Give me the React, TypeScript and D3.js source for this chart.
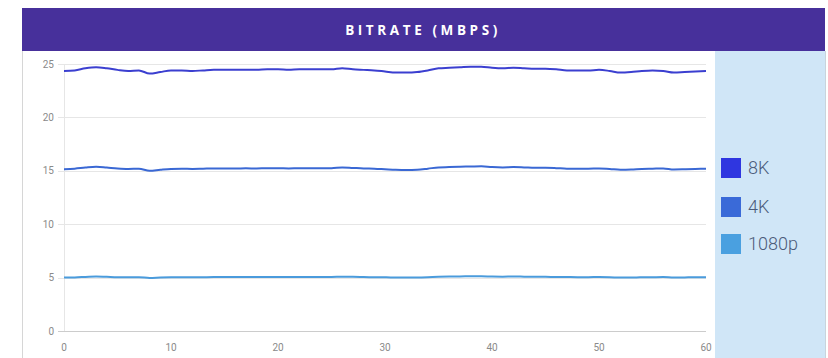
import React, { useEffect, useRef } from "react";
import * as d3 from "d3";

const seconds: number[] = d3.range(0, 61);

const bitrate8K: number[] = [
  24.35, 24.4, 24.6, 24.7, 24.6, 24.45, 24.35, 24.4, 24.1, 24.25,
  24.4, 24.4, 24.35, 24.4, 24.45, 24.45, 24.45, 24.45, 24.45, 24.5,
  24.5, 24.45, 24.5, 24.5, 24.5, 24.5, 24.6, 24.5, 24.45, 24.4,
  24.3, 24.2, 24.2, 24.25, 24.4, 24.6, 24.65, 24.7, 24.75, 24.75,
  24.65, 24.6, 24.65, 24.6, 24.55, 24.55, 24.5, 24.4, 24.4, 24.4,
  24.45, 24.35, 24.2, 24.25, 24.35, 24.4, 24.35, 24.2, 24.25, 24.3,
  24.35,
];

const bitrate4K: number[] = [
  15.15, 15.2, 15.3, 15.37, 15.3, 15.22, 15.18, 15.2, 15.0, 15.1,
  15.18, 15.2, 15.18, 15.2, 15.22, 15.22, 15.22, 15.23, 15.22, 15.25,
  15.25, 15.22, 15.25, 15.25, 15.25, 15.25, 15.32, 15.27, 15.22, 15.2,
  15.15, 15.1, 15.08, 15.1, 15.2, 15.32, 15.35, 15.38, 15.4, 15.42,
  15.35, 15.32, 15.35, 15.32, 15.28, 15.28, 15.25, 15.2, 15.2, 15.2,
  15.22, 15.18, 15.1, 15.12, 15.18, 15.2, 15.22, 15.12, 15.14, 15.17,
  15.2,
];

const bitrate1080p: number[] = [
  5.0, 5.02, 5.06, 5.1, 5.07, 5.04, 5.03, 5.04, 4.96, 5.0,
  5.03, 5.04, 5.03, 5.04, 5.05, 5.05, 5.05, 5.05, 5.05, 5.06,
  5.06, 5.05, 5.06, 5.06, 5.06, 5.06, 5.09, 5.07, 5.05, 5.04,
  5.03, 5.01, 5.0, 5.01, 5.04, 5.08, 5.1, 5.11, 5.12, 5.13,
  5.1, 5.09, 5.1, 5.09, 5.08, 5.07, 5.06, 5.05, 5.04, 5.04,
  5.05, 5.04, 5.0, 5.01, 5.03, 5.04, 5.05, 5.01, 5.02, 5.03,
  5.03,
];

const seriesNames: string[] = ["8K", "4K", "1080p"];
const lineColors: string[] = ["#3b3fd0", "#3a68d4", "#4a9bdc"];
const legendColors: string[] = ["#2f36e0", "#3a6ad8", "#4aa0e0"];
const yTicks: number[] = [0, 5, 10, 15, 20, 25];
const xTicks: number[] = [0, 10, 20, 30, 40, 50, 60];
const title = "BITRATE (MBPS)";

const W = 828;
const H = 358;

export default function App() {
  const ref = useRef<SVGSVGElement | null>(null);

  useEffect(() => {
    const svg = d3.select(ref.current);
    svg.selectAll("*").remove();

    const x = d3.scaleLinear().domain([0, 60]).range([64, 706]);
    const y = d3.scaleLinear().domain([0, 25]).range([331, 64]);

    svg.append("rect").attr("x", 0).attr("y", 0).attr("width", W).attr("height", H).attr("fill", "#ffffff");

    svg.append("line").attr("x1", 22.5).attr("x2", 22.5).attr("y1", 51).attr("y2", H)
      .attr("stroke", "#d6d6d6").attr("stroke-width", 1);

    svg.append("rect").attr("x", 22).attr("y", 8).attr("width", 803).attr("height", 43).attr("fill", "#47309b");
    svg.append("text").attr("x", 423).attr("y", 35).attr("text-anchor", "middle")
      .attr("fill", "#ffffff").attr("font-family", "'Open Sans', sans-serif").attr("font-weight", 700)
      .attr("font-size", 13.5).attr("letter-spacing", 3.6).text(title);

    svg.append("rect").attr("x", 715).attr("y", 51).attr("width", 110).attr("height", H - 51).attr("fill", "#d0e6f7");
    svg.append("line").attr("x1", 825.5).attr("x2", 825.5).attr("y1", 51).attr("y2", H)
      .attr("stroke", "#c9d4dc").attr("stroke-width", 1);

    const g = svg.append("g");
    g.selectAll("line.grid").data(yTicks).enter().append("line")
      .attr("x1", 58).attr("x2", 706)
      .attr("y1", (d) => Math.round(y(d)) + 0.5).attr("y2", (d) => Math.round(y(d)) + 0.5)
      .attr("stroke", (d) => (d === 0 ? "#cccccc" : "#e6e6e6")).attr("stroke-width", 1);
    g.append("line").attr("x1", 64.5).attr("x2", 64.5).attr("y1", 64).attr("y2", 331)
      .attr("stroke", "#e6e6e6");

    g.selectAll("text.ylab").data(yTicks).enter().append("text")
      .attr("x", 54).attr("y", (d) => y(d) + 3.5).attr("text-anchor", "end")
      .attr("fill", "#8a8a8a").attr("font-family", "Roboto, Arial, sans-serif").attr("font-size", 10)
      .text((d) => String(d));
    g.selectAll("text.xlab").data(xTicks).enter().append("text")
      .attr("x", (d) => x(d)).attr("y", 351).attr("text-anchor", "middle")
      .attr("fill", "#8a8a8a").attr("font-family", "Roboto, Arial, sans-serif").attr("font-size", 10)
      .text((d) => String(d));

    const all = [bitrate8K, bitrate4K, bitrate1080p];
    const line = d3.line<number>().x((_, i) => x(seconds[i])).y((d) => y(d)).curve(d3.curveMonotoneX);
    all.forEach((vals, k) => {
      svg.append("path").attr("d", line(vals) || "").attr("fill", "none")
        .attr("stroke", lineColors[k]).attr("stroke-width", 2).attr("stroke-linejoin", "round");
    });

    const lg = svg.append("g");
    const legendY = [158, 197, 234];
    seriesNames.forEach((name, k) => {
      lg.append("rect").attr("x", 721).attr("y", legendY[k]).attr("width", 20).attr("height", 20).attr("fill", legendColors[k]);
      lg.append("text").attr("x", 748).attr("y", legendY[k] + 16).attr("fill", "#4b5b7a")
        .attr("font-family", "Roboto, sans-serif").attr("font-weight", 300).attr("font-size", 18).text(name);
    });
  }, []);

  return (
    <svg ref={ref} width={W} height={H} style={{ position: "absolute", left: 0, top: 0, display: "block" }} />
  );
}
